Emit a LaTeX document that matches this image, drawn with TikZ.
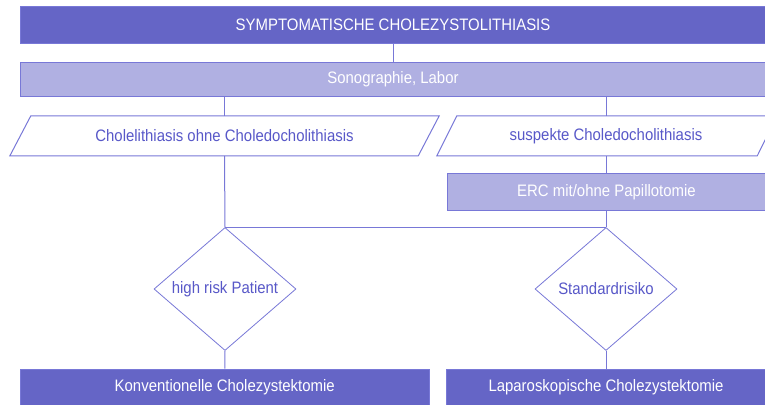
\documentclass[tikz,border=0pt]{standalone}
\usepackage{fontspec}
\setmainfont{Liberation Sans}[FakeStretch=0.9]
\usetikzlibrary{shapes.geometric}
\definecolor{darkfill}{RGB}{101,101,198}
\definecolor{lightfill}{RGB}{176,176,226}
\definecolor{edge}{RGB}{120,120,215}
\definecolor{labelblue}{RGB}{88,88,200}
\begin{document}
\begin{tikzpicture}[x=1pt,y=-1pt,
  every node/.style={font=\fontsize{16.6}{18}\selectfont, inner sep=0pt},
  darkbox/.style={rectangle, draw=edge, fill=darkfill, text=white, line width=1pt},
  lightbox/.style={rectangle, draw=edge, fill=lightfill, text=white, line width=1pt},
  slanted/.style={rectangle, text=labelblue},
  decision/.style={diamond, draw=edge, fill=white, text=labelblue, line width=0.8pt,
                   minimum width=142pt, minimum height=123pt},
  link/.style={draw=edge, line width=1pt}]
  \useasboundingbox (0,0) rectangle (765,404);

  % header and examination
  \node[darkbox, minimum width=746pt, minimum height=36.5pt] (head) at (393,25)
    {SYMPTOMATISCHE CHOLEZYSTOLITHIASIS};
  \node[lightbox, minimum width=746pt, minimum height=33.7pt] (exam) at (393,79.2)
    {Sonographie, Labor};

  % findings (parallelograms drawn around text holders)
  \node[slanted, minimum width=429pt, minimum height=39.7pt] (calm) at (224.5,135.9)
    {Cholelithiasis ohne Choledocholithiasis};
  \node[slanted, minimum width=340pt, minimum height=39.7pt] (susp) at (607,135.9)
    {\hspace*{-2pt}suspekte Choledocholithiasis};
  \draw[link] (calm.south west) -- ([xshift=21pt]calm.north west) -- (calm.north east)
    -- ([xshift=-21pt]calm.south east) -- cycle;
  \draw[link] (susp.south west) -- ([xshift=20pt]susp.north west) -- (susp.north east)
    -- ([xshift=-20pt]susp.south east) -- cycle;

  % endoscopy
  \node[lightbox, minimum width=319pt, minimum height=36.5pt] (erc) at (606.5,191.8)
    {ERC mit/ohne Papillotomie};

  % risk decisions
  \node[decision] (hr) at (225,289) {high risk Patient};
  \node[decision] (std) at (606,289) {Standardrisiko};

  % operations
  \node[darkbox, minimum width=409.5pt, minimum height=36pt] (conv) at (224.75,387)
    {Konventionelle Cholezystektomie};
  \node[darkbox, minimum width=320pt, minimum height=36pt] (lap) at (606,387)
    {Laparoskopische Cholezystektomie};

  % connectors
  \draw[link] (head.south) -- (exam.north);
  \draw[link] (exam.south -| calm.north) -- (calm.north);
  \draw[link] (exam.south -| std.north) -- (susp.north -| std.north);
  \draw[link] (calm.south) -- (hr.north);
  \draw[link] (susp.south -| std.north) -- (erc.north -| std.north);
  \draw[link] (erc.south -| std.north) -- (std.north);
  \draw[link] (hr.north) -- (std.north);
  \draw[link] (hr.south) -- (conv.north);
  \draw[link] (std.south) -- (lap.north);
\end{tikzpicture}
\end{document}
